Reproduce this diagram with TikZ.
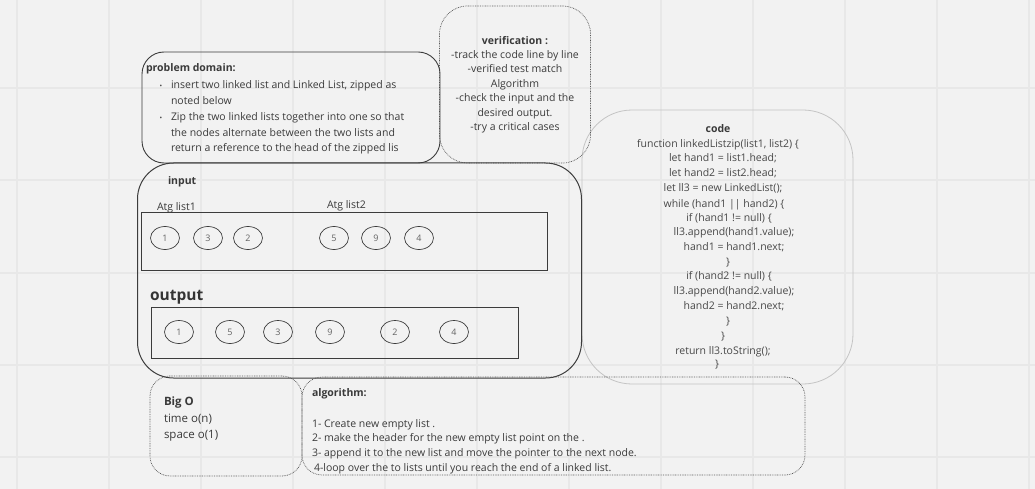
\documentclass[tikz,border=0pt]{standalone}
\usepackage{fontspec}
\setmainfont{Open Sans}
\usetikzlibrary{shapes.geometric}
\definecolor{bg}{HTML}{F2F2F2}
\definecolor{gridc}{HTML}{E8E8E8}
\definecolor{txt}{HTML}{3A3A3A}
\definecolor{codetxt}{HTML}{484848}
\definecolor{darkline}{HTML}{3C3C3C}
\definecolor{lightline}{HTML}{C4C4C4}
\begin{document}
\begin{tikzpicture}[x=1pt,y=-1pt,
  panel/.style={inner sep=0pt, outer sep=0pt},
  solidpanel/.style={panel, draw=darkline, line width=0.9pt},
  dotpanel/.style={panel, draw=darkline!85, line width=0.7pt, dash pattern=on 0.8pt off 0.9pt},
  lightpanel/.style={panel, draw=lightline, line width=0.8pt},
  listbox/.style={panel, draw=darkline, line width=0.8pt},
  numnode/.style={ellipse, draw=darkline, line width=0.7pt, minimum width=29pt, minimum height=23pt, inner sep=0pt, font=\fontsize{9}{10}\selectfont, text=darkline!80},
  tx/.style={inner sep=0pt, outer sep=0pt, text=txt, font=\fontsize{10.5}{14.6}\selectfont, anchor=base west},
  bx/.style={tx, font=\fontsize{10.5}{14.6}\selectfont\bfseries},
  cd/.style={inner sep=0pt, outer sep=0pt, text=codetxt, font=\fontsize{10.5}{14.6}\selectfont, anchor=base},
  bul/.style={inner sep=0pt, text=txt, font=\fontsize{7}{8}\selectfont, anchor=base},
  bigtx/.style={tx, font=\fontsize{11.5}{14}\selectfont}
]
% background and grid
\fill[bg] (0,0) rectangle (1035,489);
\useasboundingbox (0,0) rectangle (1035,489);
\foreach \gx in {17,109,201,293,385,477,569,661,753,845,937,1029}
  \draw[gridc, line width=1.1pt] (\gx,0) -- (\gx,489);
\foreach \gy in {88,180,273,365,457}
  \draw[gridc, line width=1.1pt] (0,\gy) -- (1035,\gy);

% code panel
\node[lightpanel, rounded corners=50pt, minimum width=271pt, minimum height=274pt] (codebox) at (717.5,247) {};
% verification panel
\node[dotpanel, rounded corners=28pt, minimum width=151pt, minimum height=157pt] (verbox) at (515,84.5) {};
% problem domain panel
\node[solidpanel, rounded corners=22pt, minimum width=298pt, minimum height=111pt] (pdbox) at (291,107.5) {};
% input/output panel
\node[solidpanel, line width=1pt, rounded corners=36pt, minimum width=444pt, minimum height=215pt] (iobox) at (359.5,270.5) {};
% Big O and algorithm panels
\node[dotpanel, rounded corners=20pt, minimum width=152pt, minimum height=100pt] (bigobox) at (226,426) {};
\node[dotpanel, rounded corners=20pt, minimum width=503pt, minimum height=98pt] (algbox) at (553.5,426) {};

% problem domain text
\node[bx] (pdt) at (146,72) {problem domain:};
\node[bul] (b1) at (161,89) {•};
\node[tx] (pd1) at (171,89) {insert two linked list and Linked List, zipped as};
\node[tx] (pd2) at (171,105) {noted below};
\node[bul] (b2) at (161,121) {•};
\node[tx] (pd3) at (171,121) {Zip the two linked lists together into one so that};
\node[tx] (pd4) at (171,137) {the nodes alternate between the two lists and};
\node[tx] (pd5) at (171,152) {return a reference to the head of the zipped lis};

% verification text
\node[cd, text=txt, font=\fontsize{10.5}{14.6}\selectfont\bfseries] (v0) at (515,45) {verification :};
\node[cd, text=txt] (v1) at (515,59) {-track the code line by line};
\node[cd, text=txt] (v2) at (515,73) {-verified test match};
\node[cd, text=txt] (v3) at (515,88) {Algorithm};
\node[cd, text=txt] (v4) at (515,102) {-check the input and the};
\node[cd, text=txt] (v5) at (515,117) {desired output.};
\node[cd, text=txt] (v6) at (515,131) {-try a critical cases};

% code text
\node[cd, font=\fontsize{10.5}{14.6}\selectfont\bfseries, text=txt] (c0) at (718,133) {code};
\node[cd] (c1) at (718,148) {function linkedListzip(list1, list2) \{};
\node[cd] (c2) at (723,162) {let hand1 = list1.head;};
\node[cd] (c3) at (723,177) {let hand2 = list2.head;};
\node[cd] (c4) at (723,191.5) {let ll3 = new LinkedList();};
\node[cd] (c5) at (724,207) {while (hand1 || hand2) \{};
\node[cd] (c6) at (729,221.5) {if (hand1 != null) \{};
\node[cd] (c7) at (734,235.5) {ll3.append(hand1.value);};
\node[cd] (c8) at (734,250.5) {hand1 = hand1.next;};
\node[cd] (c9) at (728,265) {\}};
\node[cd] (c10) at (729,279.5) {if (hand2 != null) \{};
\node[cd] (c11) at (734,294) {ll3.append(hand2.value);};
\node[cd] (c12) at (734,309) {hand2 = hand2.next;};
\node[cd] (c13) at (728,324) {\}};
\node[cd] (c14) at (723,339) {\}};
\node[cd] (c15) at (723,354) {return ll3.toString();};
\node[cd] (c16) at (717,367.5) {\}};

% input / output
\node[bx] (inlabel) at (168,185) {input};
\node[tx] (l1) at (157,211) {Atg list1};
\node[tx] (l2) at (327,208) {Atg list2};
\node[listbox, minimum width=406pt, minimum height=58pt] (inrect) at (344,241) {};
\node[numnode] (i1) at (165,238) {1};
\node[numnode] (i2) at (208,238) {3};
\node[numnode] (i3) at (248,238) {2};
\node[numnode] (i4) at (334,238) {5};
\node[numnode] (i5) at (376,238) {9};
\node[numnode] (i6) at (419,238) {4};
\node[tx, font=\fontsize{15.5}{18}\selectfont\bfseries, text=txt!90!black] (outlabel) at (150,300.5) {output};
\node[listbox, minimum width=367pt, minimum height=51pt] (outrect) at (334.5,332.5) {};
\node[numnode] (o1) at (179,332) {1};
\node[numnode] (o2) at (230,332) {5};
\node[numnode] (o3) at (278,332) {3};
\node[numnode] (o4) at (330,332) {9};
\node[numnode] (o5) at (395,332) {2};
\node[numnode] (o6) at (454,332) {4};

% Big O text
\node[bigtx, font=\fontsize{11.5}{14}\selectfont\bfseries] (bo0) at (164,405) {Big O};
\node[bigtx] (bo1) at (164,422) {time o(n)};
\node[bigtx] (bo2) at (164,438.5) {space o(1)};

% algorithm text
\node[bx] (al0) at (312,396) {algorithm:};
\node[tx] (al1) at (312,427) {1- Create new empty list .};
\node[tx] (al2) at (312,441.5) {2- make the header for the new empty list point on the .};
\node[tx] (al3) at (312,456) {3- append it to the new list and move the pointer to the next node.};
\node[tx] (al4) at (314,471) {4-loop over the to lists until you reach the end of a linked list.};
\end{tikzpicture}
\end{document}
